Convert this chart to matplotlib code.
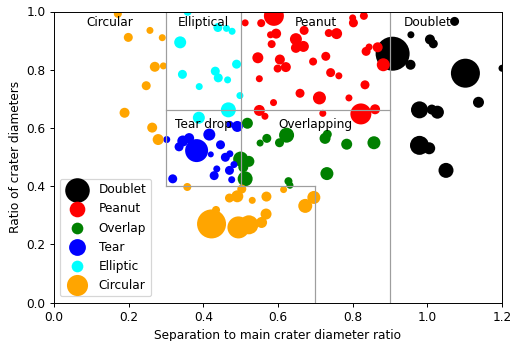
import matplotlib
matplotlib.use("Agg")
import matplotlib.pyplot as plt
import numpy as np

# Doublet (black)
doublet_x = [0.907, 0.955, 0.956, 1.073, 1.007, 1.016, 1.102, 1.200, 1.137, 0.979, 1.012, 1.027, 0.979, 1.005, 1.050]
doublet_y = [0.855, 0.817, 0.920, 0.966, 0.904, 0.889, 0.788, 0.805, 0.688, 0.662, 0.663, 0.654, 0.540, 0.530, 0.454]
doublet_d = [34, 10, 7, 9, 10, 9, 29, 7, 11, 17, 10, 13, 19, 12, 15]

# Peanut (red)
peanut_x = [0.589, 0.555, 0.512, 0.670, 0.580, 0.595, 0.583, 0.648, 0.668, 0.648, 0.736, 0.757, 0.800,
            0.802, 0.830, 0.546, 0.605, 0.599, 0.621, 0.694, 0.728, 0.741, 0.763, 0.550, 0.833, 0.659,
            0.711, 0.790, 0.588, 0.836, 0.844, 0.867, 0.882, 0.550, 0.565, 0.720, 0.822, 0.860]
peanut_y = [0.985, 0.960, 0.961, 0.935, 0.920, 0.924, 0.888, 0.905, 0.880, 0.875, 0.926, 0.924, 0.978,
            0.961, 0.985, 0.841, 0.835, 0.804, 0.809, 0.828, 0.846, 0.790, 0.779, 0.769, 0.748, 0.719,
            0.703, 0.703, 0.687, 0.863, 0.878, 0.877, 0.817, 0.660, 0.640, 0.650, 0.648, 0.664]
peanut_d = [20, 8, 7, 9, 7, 10, 8, 12, 11, 10, 8, 11, 7,
            9, 8, 11, 10, 8, 10, 8, 9, 9, 7, 7, 9, 9,
            13, 7, 7, 9, 7, 10, 13, 11, 7, 7, 21, 10]

# Overlap (green)
overlap_x = [0.518, 0.552, 0.570, 0.604, 0.623, 0.726, 0.732, 0.784, 0.857, 0.731, 0.628, 0.632,
             0.500, 0.522, 0.507, 0.512]
overlap_y = [0.616, 0.548, 0.564, 0.549, 0.575, 0.564, 0.578, 0.544, 0.549, 0.443, 0.417, 0.403,
             0.493, 0.485, 0.465, 0.425]
overlap_d = [11, 7, 9, 9, 15, 11, 9, 11, 13, 13, 8, 7,
             15, 11, 10, 15]

# Tear (blue)
tear_x = [0.382, 0.345, 0.362, 0.335, 0.416, 0.446, 0.420, 0.491, 0.471, 0.302, 0.459, 0.471,
          0.436, 0.429, 0.470, 0.482, 0.476, 0.318]
tear_y = [0.522, 0.555, 0.565, 0.535, 0.577, 0.542, 0.509, 0.605, 0.612, 0.560, 0.499, 0.511,
          0.459, 0.436, 0.454, 0.474, 0.422, 0.425]
tear_d = [23, 11, 10, 9, 12, 9, 6, 11, 7, 7, 9, 7,
          7, 9, 9, 7, 7, 9]

# Elliptic (cyan)
elliptic_x = [0.358, 0.338, 0.439, 0.462, 0.477, 0.489, 0.344, 0.432, 0.440, 0.465, 0.389, 0.498, 0.467, 0.388]
elliptic_y = [0.999, 0.894, 0.945, 0.942, 0.932, 0.819, 0.784, 0.795, 0.772, 0.765, 0.742, 0.711, 0.662, 0.635]
elliptic_d = [8, 12, 9, 7, 7, 9, 9, 9, 9, 7, 7, 7, 15, 12]

# Circular (orange)
circular_x = [0.171, 0.257, 0.199, 0.290, 0.270, 0.293, 0.247, 0.189, 0.263, 0.279,
              0.357, 0.422, 0.434, 0.494, 0.522, 0.556, 0.568, 0.470, 0.491, 0.503,
              0.531, 0.569, 0.615, 0.673, 0.696]
circular_y = [0.992, 0.935, 0.911, 0.910, 0.810, 0.813, 0.745, 0.652, 0.601, 0.560,
              0.397, 0.270, 0.318, 0.258, 0.267, 0.275, 0.304, 0.359, 0.365, 0.390,
              0.351, 0.364, 0.388, 0.332, 0.361]
circular_d = [8, 7, 9, 7, 10, 7, 9, 10, 10, 11,
              8, 29, 8, 22, 19, 11, 11, 9, 12, 9,
              7, 10, 7, 14, 13]

series = [
    ("Doublet", doublet_x, doublet_y, doublet_d, "black"),
    ("Peanut", peanut_x, peanut_y, peanut_d, "red"),
    ("Overlap", overlap_x, overlap_y, overlap_d, "green"),
    ("Tear", tear_x, tear_y, tear_d, "blue"),
    ("Elliptic", elliptic_x, elliptic_y, elliptic_d, "cyan"),
    ("Circular", circular_x, circular_y, circular_d, "orange"),
]

region_labels = ["Circular", "Elliptical", "Peanut", "Doublet", "Tear drop", "Overlapping"]
region_label_x = [0.15, 0.40, 0.70, 1.00, 0.40, 0.70]
region_label_y = [0.95, 0.95, 0.95, 0.95, 0.60, 0.60]

DPI = 87
px2pt = 72.0 / DPI

fig = plt.figure(figsize=(513 / DPI, 341 / DPI), dpi=DPI)
ax = fig.add_axes([54 / 513, (341 - 302.5) / 341, 448 / 513, 291 / 341])

for name, xs, ys, ds, c in series:
    ax.scatter(xs, ys, s=(np.array(ds) * px2pt) ** 2, c=c, label=name, linewidths=0)

line_color = "0.62"
ax.plot([0.3, 0.3], [0.4, 1.0], color=line_color, lw=1)
ax.plot([0.5, 0.5], [0.4, 1.0], color=line_color, lw=1)
ax.plot([0.9, 0.9], [0.0, 1.0], color=line_color, lw=1)
ax.plot([0.7, 0.7], [0.0, 0.4], color=line_color, lw=1)
ax.plot([0.3, 0.9], [0.66, 0.66], color=line_color, lw=1)
ax.plot([0.3, 0.7], [0.4, 0.4], color=line_color, lw=1)

for t, x, y in zip(region_labels, region_label_x, region_label_y):
    ax.text(x, y, t, ha="center", va="baseline", fontsize=10)

ax.set_xlim(0, 1.2)
ax.set_ylim(0, 1.0)
ax.set_xlabel("Separation to main crater diameter ratio")
ax.set_ylabel("Ratio of crater diameters")
ax.legend(loc="lower left")

fig.savefig("out.png", dpi=DPI)
